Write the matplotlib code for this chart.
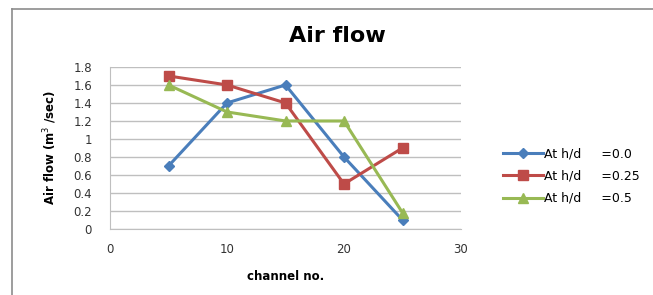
import matplotlib.pyplot as plt
from matplotlib.lines import Line2D

# data
channel = [5, 10, 15, 20, 25]
flow_00 = [0.7, 1.4, 1.6, 0.8, 0.1]
flow_025 = [1.7, 1.6, 1.4, 0.5, 0.9]
flow_05 = [1.6, 1.3, 1.2, 1.2, 0.18]
labels = ['At h/d     =0.0', 'At h/d     =0.25', 'At h/d     =0.5']
yticks = [0, 0.2, 0.4, 0.6, 0.8, 1, 1.2, 1.4, 1.6, 1.8]
xticks = [0, 10, 20, 30]

W, H = 653, 295
fig = plt.figure(figsize=(W / 100, H / 100), dpi=100)
ax = fig.add_axes([110 / W, 1 - 229 / H, (461 - 110) / W, (229 - 66.5) / H])

ax.plot(channel, flow_00, color='#4a7ebb', marker='D', markersize=5, lw=2.2, label=labels[0])
ax.plot(channel, flow_025, color='#be4b48', marker='s', markersize=7.5, lw=2.2, label=labels[1])
ax.plot(channel, flow_05, color='#98b954', marker='^', markersize=7.5, lw=2.2, label=labels[2])

ax.set_xlim(0, 30)
ax.set_ylim(0, 1.805)
ax.set_xticks(xticks)
ax.set_yticks(yticks)
ax.set_yticklabels([str(v) for v in yticks])
ax.tick_params(length=0, labelsize=8.5, colors='#333333')
ax.tick_params(axis='x', pad=10)
ax.tick_params(axis='y', pad=13)
ax.yaxis.grid(True, color='#bfbfbf', lw=1)
ax.set_axisbelow(True)
for s in ['top', 'right']:
    ax.spines[s].set_visible(False)
for s in ['left', 'bottom']:
    ax.spines[s].set_color('#bfbfbf')

ax.set_xlabel('channel no.', fontsize=8.5, fontweight='bold', labelpad=10)
ax.set_ylabel('Air flow (m$^3$ /sec)', fontsize=8.5, fontweight='bold', labelpad=10)

fig.text(337 / W, 1 - 36 / H, 'Air flow', fontsize=16, fontweight='bold', ha='center', va='center')

ax.legend(loc='center left', bbox_to_anchor=(492 / W, 1 - 176 / H), bbox_transform=fig.transFigure,
          frameon=False, fontsize=9, handlelength=3.2, handletextpad=0.1, labelspacing=0.75)

# outer chart frame, clipped at right and bottom
fig.add_artist(Line2D([12 / W, 12 / W], [0, 1 - 9 / H], color='#8c8c8c', lw=1.2, transform=fig.transFigure))
fig.add_artist(Line2D([12 / W, 1], [1 - 9 / H, 1 - 9 / H], color='#8c8c8c', lw=1.2, transform=fig.transFigure))

fig.savefig('out.png', dpi=100)
